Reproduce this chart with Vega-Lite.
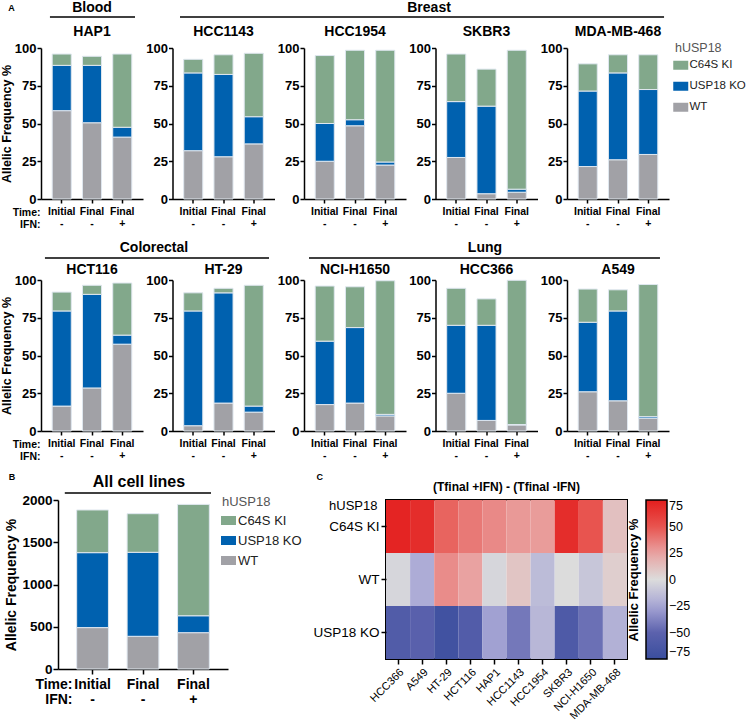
{
  "$schema": "https://vega.github.io/schema/vega-lite/v6.json",
  "padding": {"left": 0, "top": 1, "right": 0, "bottom": 0},
  "background": "white",
  "datasets": {
    "bars": [
      {"line":"HAP1","cond":"Initial|-","geno":"WT","val":58.5},
      {"line":"HAP1","cond":"Initial|-","geno":"USP18 KO","val":30},
      {"line":"HAP1","cond":"Initial|-","geno":"C64S KI","val":7.5},
      {"line":"HAP1","cond":"Final|-","geno":"WT","val":50.5},
      {"line":"HAP1","cond":"Final|-","geno":"USP18 KO","val":38},
      {"line":"HAP1","cond":"Final|-","geno":"C64S KI","val":6},
      {"line":"HAP1","cond":"Final|+","geno":"WT","val":41},
      {"line":"HAP1","cond":"Final|+","geno":"USP18 KO","val":6.5},
      {"line":"HAP1","cond":"Final|+","geno":"C64S KI","val":48.5},
      {"line":"HCC1143","cond":"Initial|-","geno":"WT","val":32},
      {"line":"HCC1143","cond":"Initial|-","geno":"USP18 KO","val":51.5},
      {"line":"HCC1143","cond":"Initial|-","geno":"C64S KI","val":9},
      {"line":"HCC1143","cond":"Final|-","geno":"WT","val":28},
      {"line":"HCC1143","cond":"Final|-","geno":"USP18 KO","val":54.5},
      {"line":"HCC1143","cond":"Final|-","geno":"C64S KI","val":13},
      {"line":"HCC1143","cond":"Final|+","geno":"WT","val":36.5},
      {"line":"HCC1143","cond":"Final|+","geno":"USP18 KO","val":18},
      {"line":"HCC1143","cond":"Final|+","geno":"C64S KI","val":42},
      {"line":"HCC1954","cond":"Initial|-","geno":"WT","val":25},
      {"line":"HCC1954","cond":"Initial|-","geno":"USP18 KO","val":25},
      {"line":"HCC1954","cond":"Initial|-","geno":"C64S KI","val":45},
      {"line":"HCC1954","cond":"Final|-","geno":"WT","val":48.5},
      {"line":"HCC1954","cond":"Final|-","geno":"USP18 KO","val":4},
      {"line":"HCC1954","cond":"Final|-","geno":"C64S KI","val":46},
      {"line":"HCC1954","cond":"Final|+","geno":"WT","val":22.5},
      {"line":"HCC1954","cond":"Final|+","geno":"USP18 KO","val":2},
      {"line":"HCC1954","cond":"Final|+","geno":"C64S KI","val":74},
      {"line":"SKBR3","cond":"Initial|-","geno":"WT","val":27.5},
      {"line":"SKBR3","cond":"Initial|-","geno":"USP18 KO","val":37},
      {"line":"SKBR3","cond":"Initial|-","geno":"C64S KI","val":31.5},
      {"line":"SKBR3","cond":"Final|-","geno":"WT","val":3.5},
      {"line":"SKBR3","cond":"Final|-","geno":"USP18 KO","val":58},
      {"line":"SKBR3","cond":"Final|-","geno":"C64S KI","val":24.5},
      {"line":"SKBR3","cond":"Final|+","geno":"WT","val":4.5},
      {"line":"SKBR3","cond":"Final|+","geno":"USP18 KO","val":2},
      {"line":"SKBR3","cond":"Final|+","geno":"C64S KI","val":92},
      {"line":"MDA-MB-468","cond":"Initial|-","geno":"WT","val":21.5},
      {"line":"MDA-MB-468","cond":"Initial|-","geno":"USP18 KO","val":50},
      {"line":"MDA-MB-468","cond":"Initial|-","geno":"C64S KI","val":18},
      {"line":"MDA-MB-468","cond":"Final|-","geno":"WT","val":26},
      {"line":"MDA-MB-468","cond":"Final|-","geno":"USP18 KO","val":57.5},
      {"line":"MDA-MB-468","cond":"Final|-","geno":"C64S KI","val":12},
      {"line":"MDA-MB-468","cond":"Final|+","geno":"WT","val":29.5},
      {"line":"MDA-MB-468","cond":"Final|+","geno":"USP18 KO","val":43},
      {"line":"MDA-MB-468","cond":"Final|+","geno":"C64S KI","val":23},
      {"line":"HCT116","cond":"Initial|-","geno":"WT","val":16.5},
      {"line":"HCT116","cond":"Initial|-","geno":"USP18 KO","val":63},
      {"line":"HCT116","cond":"Initial|-","geno":"C64S KI","val":12.5},
      {"line":"HCT116","cond":"Final|-","geno":"WT","val":28.5},
      {"line":"HCT116","cond":"Final|-","geno":"USP18 KO","val":62},
      {"line":"HCT116","cond":"Final|-","geno":"C64S KI","val":6},
      {"line":"HCT116","cond":"Final|+","geno":"WT","val":57.5},
      {"line":"HCT116","cond":"Final|+","geno":"USP18 KO","val":6},
      {"line":"HCT116","cond":"Final|+","geno":"C64S KI","val":34.5},
      {"line":"HT-29","cond":"Initial|-","geno":"WT","val":3.5},
      {"line":"HT-29","cond":"Initial|-","geno":"USP18 KO","val":76},
      {"line":"HT-29","cond":"Initial|-","geno":"C64S KI","val":12},
      {"line":"HT-29","cond":"Final|-","geno":"WT","val":18.5},
      {"line":"HT-29","cond":"Final|-","geno":"USP18 KO","val":73},
      {"line":"HT-29","cond":"Final|-","geno":"C64S KI","val":3},
      {"line":"HT-29","cond":"Final|+","geno":"WT","val":12.5},
      {"line":"HT-29","cond":"Final|+","geno":"USP18 KO","val":4},
      {"line":"HT-29","cond":"Final|+","geno":"C64S KI","val":80},
      {"line":"NCI-H1650","cond":"Initial|-","geno":"WT","val":17.5},
      {"line":"NCI-H1650","cond":"Initial|-","geno":"USP18 KO","val":42},
      {"line":"NCI-H1650","cond":"Initial|-","geno":"C64S KI","val":36.5},
      {"line":"NCI-H1650","cond":"Final|-","geno":"WT","val":18.5},
      {"line":"NCI-H1650","cond":"Final|-","geno":"USP18 KO","val":50},
      {"line":"NCI-H1650","cond":"Final|-","geno":"C64S KI","val":27},
      {"line":"NCI-H1650","cond":"Final|+","geno":"WT","val":10},
      {"line":"NCI-H1650","cond":"Final|+","geno":"USP18 KO","val":1},
      {"line":"NCI-H1650","cond":"Final|+","geno":"C64S KI","val":88.5},
      {"line":"HCC366","cond":"Initial|-","geno":"WT","val":25},
      {"line":"HCC366","cond":"Initial|-","geno":"USP18 KO","val":45},
      {"line":"HCC366","cond":"Initial|-","geno":"C64S KI","val":24.5},
      {"line":"HCC366","cond":"Final|-","geno":"WT","val":7},
      {"line":"HCC366","cond":"Final|-","geno":"USP18 KO","val":63},
      {"line":"HCC366","cond":"Final|-","geno":"C64S KI","val":17.5},
      {"line":"HCC366","cond":"Final|+","geno":"WT","val":4},
      {"line":"HCC366","cond":"Final|+","geno":"USP18 KO","val":0.3},
      {"line":"HCC366","cond":"Final|+","geno":"C64S KI","val":95.5},
      {"line":"A549","cond":"Initial|-","geno":"WT","val":26},
      {"line":"A549","cond":"Initial|-","geno":"USP18 KO","val":46},
      {"line":"A549","cond":"Initial|-","geno":"C64S KI","val":22},
      {"line":"A549","cond":"Final|-","geno":"WT","val":20},
      {"line":"A549","cond":"Final|-","geno":"USP18 KO","val":59.5},
      {"line":"A549","cond":"Final|-","geno":"C64S KI","val":14},
      {"line":"A549","cond":"Final|+","geno":"WT","val":8.5},
      {"line":"A549","cond":"Final|+","geno":"USP18 KO","val":1},
      {"line":"A549","cond":"Final|+","geno":"C64S KI","val":87.5},
      {"line":"All","cond":"Initial|-","geno":"WT","val":490},
      {"line":"All","cond":"Initial|-","geno":"USP18 KO","val":887},
      {"line":"All","cond":"Initial|-","geno":"C64S KI","val":505},
      {"line":"All","cond":"Final|-","geno":"WT","val":387},
      {"line":"All","cond":"Final|-","geno":"USP18 KO","val":994},
      {"line":"All","cond":"Final|-","geno":"C64S KI","val":457},
      {"line":"All","cond":"Final|+","geno":"WT","val":430},
      {"line":"All","cond":"Final|+","geno":"USP18 KO","val":200},
      {"line":"All","cond":"Final|+","geno":"C64S KI","val":1318}
    ],
    "heat": [
      {"line":"HCC366","allele":"C64S KI","diff":72},
      {"line":"A549","allele":"C64S KI","diff":68},
      {"line":"HT-29","allele":"C64S KI","diff":45},
      {"line":"HCT116","allele":"C64S KI","diff":38},
      {"line":"HAP1","allele":"C64S KI","diff":33},
      {"line":"HCC1143","allele":"C64S KI","diff":28},
      {"line":"HCC1954","allele":"C64S KI","diff":27},
      {"line":"SKBR3","allele":"C64S KI","diff":68},
      {"line":"NCI-H1650","allele":"C64S KI","diff":50},
      {"line":"MDA-MB-468","allele":"C64S KI","diff":12},
      {"line":"HCC366","allele":"WT","diff":-3},
      {"line":"A549","allele":"WT","diff":-22},
      {"line":"HT-29","allele":"WT","diff":32},
      {"line":"HCT116","allele":"WT","diff":25},
      {"line":"HAP1","allele":"WT","diff":-3},
      {"line":"HCC1143","allele":"WT","diff":10},
      {"line":"HCC1954","allele":"WT","diff":-15},
      {"line":"SKBR3","allele":"WT","diff":0},
      {"line":"NCI-H1650","allele":"WT","diff":-10},
      {"line":"MDA-MB-468","allele":"WT","diff":6},
      {"line":"HCC366","allele":"USP18 KO","diff":-58},
      {"line":"A549","allele":"USP18 KO","diff":-52},
      {"line":"HT-29","allele":"USP18 KO","diff":-70},
      {"line":"HCT116","allele":"USP18 KO","diff":-57},
      {"line":"HAP1","allele":"USP18 KO","diff":-27},
      {"line":"HCC1143","allele":"USP18 KO","diff":-42},
      {"line":"HCC1954","allele":"USP18 KO","diff":-17},
      {"line":"SKBR3","allele":"USP18 KO","diff":-60},
      {"line":"NCI-H1650","allele":"USP18 KO","diff":-45},
      {"line":"MDA-MB-468","allele":"USP18 KO","diff":-20}
    ]
  },
  "vconcat": [
    {
      "vconcat": [
        {
          "width": 657.5, "height": 16,
          "data": {"values": [
            {"label":"Blood","start":0.068,"end":0.715,"mid":0.388},
            {"label":"Breast","start":1.057,"end":4.738,"mid":2.951}
          ]},
          "layer": [
            {"mark": {"type":"rule","strokeWidth":1.3,"color":"#000"},
             "encoding": {"x":{"field":"start","type":"quantitative","scale":{"domain":[0,5]},"axis":null},"x2":{"field":"end"},"y":{"datum":0,"type":"quantitative","scale":{"domain":[0,16]},"axis":null}}},
            {"mark": {"type":"text","fontSize":14,"fontWeight":"bold","baseline":"middle","color":"#000"},
             "encoding": {"x":{"field":"mid","type":"quantitative"},"y":{"datum":9,"type":"quantitative"},"text":{"field":"label"}}},
            {"data": {"values":[{"label":"A","pos":-0.225}]},
             "mark": {"type":"text","fontSize":9,"fontWeight":"bold","baseline":"middle","color":"#000"},
             "encoding": {"x":{"field":"pos","type":"quantitative"},"y":{"datum":9,"type":"quantitative"},"text":{"field":"label"}}}
          ]
        },
        {
          "hconcat": [
            {
              "width": 102, "height": 151,
              "title": {"text":"HAP1","offset":3},
              "data": {"name":"bars"},
              "transform": [{"filter":"datum.line === 'HAP1'"}],
              "mark": {"type":"bar","stroke":"#dfe7ef","strokeWidth":1},
              "encoding": {
                "x": {"field":"cond","type":"nominal","sort":["Initial|-","Final|-","Final|+"],"scale":{"paddingInner":0.37,"paddingOuter":0.37},
                      "axis":{"title":["Time:","IFN:"],"titleFontSize":10.5,"titleLineHeight":12,"titleAngle":0,"titleAlign":"right","titleBaseline":"top","titleX":-1,"titleY":8,"labelExpr":"split(datum.label,'|')","labelAngle":0,"labelFontSize":10.5,"labelLineHeight":12,"tickSize":4,"labelPadding":3}},
                "y": {"field":"val","type":"quantitative","stack":"zero","scale":{"domain":[0,100]},
                      "axis":{"title":"Allelic Frequency %","titleFontSize":12.5,"titlePadding":1,"values":[0,25,50,75,100],"labelFontSize":13,"tickSize":4,"labelPadding":1}},
                "color": {"field":"geno","type":"nominal","scale":{"domain":["C64S KI","USP18 KO","WT"],"range":["#82A88B","#0061AF","#A1A1A6"]},"legend":null},
                "order": {"field":"geno","type":"ordinal","sort":"descending"}
              }
            },
            {
              "width": 102, "height": 151,
              "title": {"text":"HCC1143","offset":3},
              "data": {"name":"bars"},
              "transform": [{"filter":"datum.line === 'HCC1143'"}],
              "mark": {"type":"bar","stroke":"#dfe7ef","strokeWidth":1},
              "encoding": {
                "x": {"field":"cond","type":"nominal","sort":["Initial|-","Final|-","Final|+"],"scale":{"paddingInner":0.37,"paddingOuter":0.37},
                      "axis":{"title":null,"labelExpr":"split(datum.label,'|')","labelAngle":0,"labelFontSize":10.5,"labelLineHeight":12,"tickSize":4,"labelPadding":3}},
                "y": {"field":"val","type":"quantitative","stack":"zero","scale":{"domain":[0,100]},
                      "axis":{"title":null,"values":[0,25,50,75,100],"labelFontSize":13,"tickSize":4,"labelPadding":1}},
                "color": {"field":"geno","type":"nominal","scale":{"domain":["C64S KI","USP18 KO","WT"],"range":["#82A88B","#0061AF","#A1A1A6"]},"legend":null},
                "order": {"field":"geno","type":"ordinal","sort":"descending"}
              }
            },
            {
              "width": 102, "height": 151,
              "title": {"text":"HCC1954","offset":3},
              "data": {"name":"bars"},
              "transform": [{"filter":"datum.line === 'HCC1954'"}],
              "mark": {"type":"bar","stroke":"#dfe7ef","strokeWidth":1},
              "encoding": {
                "x": {"field":"cond","type":"nominal","sort":["Initial|-","Final|-","Final|+"],"scale":{"paddingInner":0.37,"paddingOuter":0.37},
                      "axis":{"title":null,"labelExpr":"split(datum.label,'|')","labelAngle":0,"labelFontSize":10.5,"labelLineHeight":12,"tickSize":4,"labelPadding":3}},
                "y": {"field":"val","type":"quantitative","stack":"zero","scale":{"domain":[0,100]},
                      "axis":{"title":null,"values":[0,25,50,75,100],"labelFontSize":13,"tickSize":4,"labelPadding":1}},
                "color": {"field":"geno","type":"nominal","scale":{"domain":["C64S KI","USP18 KO","WT"],"range":["#82A88B","#0061AF","#A1A1A6"]},"legend":null},
                "order": {"field":"geno","type":"ordinal","sort":"descending"}
              }
            },
            {
              "width": 102, "height": 151,
              "title": {"text":"SKBR3","offset":3},
              "data": {"name":"bars"},
              "transform": [{"filter":"datum.line === 'SKBR3'"}],
              "mark": {"type":"bar","stroke":"#dfe7ef","strokeWidth":1},
              "encoding": {
                "x": {"field":"cond","type":"nominal","sort":["Initial|-","Final|-","Final|+"],"scale":{"paddingInner":0.37,"paddingOuter":0.37},
                      "axis":{"title":null,"labelExpr":"split(datum.label,'|')","labelAngle":0,"labelFontSize":10.5,"labelLineHeight":12,"tickSize":4,"labelPadding":3}},
                "y": {"field":"val","type":"quantitative","stack":"zero","scale":{"domain":[0,100]},
                      "axis":{"title":null,"values":[0,25,50,75,100],"labelFontSize":13,"tickSize":4,"labelPadding":1}},
                "color": {"field":"geno","type":"nominal","scale":{"domain":["C64S KI","USP18 KO","WT"],"range":["#82A88B","#0061AF","#A1A1A6"]},"legend":null},
                "order": {"field":"geno","type":"ordinal","sort":"descending"}
              }
            },
            {
              "width": 102, "height": 151,
              "title": {"text":"MDA-MB-468","offset":3},
              "data": {"name":"bars"},
              "transform": [{"filter":"datum.line === 'MDA-MB-468'"}],
              "mark": {"type":"bar","stroke":"#dfe7ef","strokeWidth":1},
              "encoding": {
                "x": {"field":"cond","type":"nominal","sort":["Initial|-","Final|-","Final|+"],"scale":{"paddingInner":0.37,"paddingOuter":0.37},
                      "axis":{"title":null,"labelExpr":"split(datum.label,'|')","labelAngle":0,"labelFontSize":10.5,"labelLineHeight":12,"tickSize":4,"labelPadding":3}},
                "y": {"field":"val","type":"quantitative","stack":"zero","scale":{"domain":[0,100]},
                      "axis":{"title":null,"values":[0,25,50,75,100],"labelFontSize":13,"tickSize":4,"labelPadding":1}},
                "color": {"field":"geno","type":"nominal","scale":{"domain":["C64S KI","USP18 KO","WT"],"range":["#82A88B","#0061AF","#A1A1A6"]},
                          "legend":{"title":"hUSP18","orient":"none","legendX":108,"legendY":-6,"symbolType":"M-1.5,-0.9H1.5V0.9H-1.5Z","symbolSize":100,"symbolStrokeWidth":0,"labelFontSize":11.5,"titleFontSize":12.5,"titleFontWeight":"normal","titleColor":"#555","labelColor":"#222","rowPadding":8,"titlePadding":5,"labelOffset":3}},
                "order": {"field":"geno","type":"ordinal","sort":"descending"}
              }
            }
          ],
          "spacing": 29.5,
          "bounds": "flush",
          "resolve": {"scale":{"x":"independent","y":"independent","color":"independent"},"legend":{"color":"independent"}}
        }
      ],
      "spacing": 31,
      "bounds": "flush",
      "resolve": {"scale":{"x":"independent","y":"independent","color":"independent"},"legend":{"color":"independent"}}
    },
    {
      "vconcat": [
        {
          "width": 657.5, "height": 16,
          "data": {"values": [
            {"label":"Colorectal","start":0.030,"end":1.734,"mid":0.859},
            {"label":"Lung","start":2.038,"end":4.707,"mid":3.376}
          ]},
          "layer": [
            {"mark": {"type":"rule","strokeWidth":1.3,"color":"#000"},
             "encoding": {"x":{"field":"start","type":"quantitative","scale":{"domain":[0,5]},"axis":null},"x2":{"field":"end"},"y":{"datum":0,"type":"quantitative","scale":{"domain":[0,16]},"axis":null}}},
            {"mark": {"type":"text","fontSize":14,"fontWeight":"bold","baseline":"middle","color":"#000"},
             "encoding": {"x":{"field":"mid","type":"quantitative"},"y":{"datum":10,"type":"quantitative"},"text":{"field":"label"}}}
          ]
        },
        {
          "hconcat": [
            {
              "width": 102, "height": 151,
              "title": {"text":"HCT116","offset":-3},
              "data": {"name":"bars"},
              "transform": [{"filter":"datum.line === 'HCT116'"}],
              "mark": {"type":"bar","stroke":"#dfe7ef","strokeWidth":1},
              "encoding": {
                "x": {"field":"cond","type":"nominal","sort":["Initial|-","Final|-","Final|+"],"scale":{"paddingInner":0.37,"paddingOuter":0.37},
                      "axis":{"title":["Time:","IFN:"],"titleFontSize":10.5,"titleLineHeight":12,"titleAngle":0,"titleAlign":"right","titleBaseline":"top","titleX":-1,"titleY":8,"labelExpr":"split(datum.label,'|')","labelAngle":0,"labelFontSize":10.5,"labelLineHeight":12,"tickSize":4,"labelPadding":3}},
                "y": {"field":"val","type":"quantitative","stack":"zero","scale":{"domain":[0,100]},
                      "axis":{"title":"Allelic Frequency %","titleFontSize":12.5,"titlePadding":1,"values":[0,25,50,75,100],"labelFontSize":13,"tickSize":4,"labelPadding":1}},
                "color": {"field":"geno","type":"nominal","scale":{"domain":["C64S KI","USP18 KO","WT"],"range":["#82A88B","#0061AF","#A1A1A6"]},"legend":null},
                "order": {"field":"geno","type":"ordinal","sort":"descending"}
              }
            },
            {
              "width": 102, "height": 151,
              "title": {"text":"HT-29","offset":-3},
              "data": {"name":"bars"},
              "transform": [{"filter":"datum.line === 'HT-29'"}],
              "mark": {"type":"bar","stroke":"#dfe7ef","strokeWidth":1},
              "encoding": {
                "x": {"field":"cond","type":"nominal","sort":["Initial|-","Final|-","Final|+"],"scale":{"paddingInner":0.37,"paddingOuter":0.37},
                      "axis":{"title":null,"labelExpr":"split(datum.label,'|')","labelAngle":0,"labelFontSize":10.5,"labelLineHeight":12,"tickSize":4,"labelPadding":3}},
                "y": {"field":"val","type":"quantitative","stack":"zero","scale":{"domain":[0,100]},
                      "axis":{"title":null,"values":[0,25,50,75,100],"labelFontSize":13,"tickSize":4,"labelPadding":1}},
                "color": {"field":"geno","type":"nominal","scale":{"domain":["C64S KI","USP18 KO","WT"],"range":["#82A88B","#0061AF","#A1A1A6"]},"legend":null},
                "order": {"field":"geno","type":"ordinal","sort":"descending"}
              }
            },
            {
              "width": 102, "height": 151,
              "title": {"text":"NCI-H1650","offset":-3},
              "data": {"name":"bars"},
              "transform": [{"filter":"datum.line === 'NCI-H1650'"}],
              "mark": {"type":"bar","stroke":"#dfe7ef","strokeWidth":1},
              "encoding": {
                "x": {"field":"cond","type":"nominal","sort":["Initial|-","Final|-","Final|+"],"scale":{"paddingInner":0.37,"paddingOuter":0.37},
                      "axis":{"title":null,"labelExpr":"split(datum.label,'|')","labelAngle":0,"labelFontSize":10.5,"labelLineHeight":12,"tickSize":4,"labelPadding":3}},
                "y": {"field":"val","type":"quantitative","stack":"zero","scale":{"domain":[0,100]},
                      "axis":{"title":null,"values":[0,25,50,75,100],"labelFontSize":13,"tickSize":4,"labelPadding":1}},
                "color": {"field":"geno","type":"nominal","scale":{"domain":["C64S KI","USP18 KO","WT"],"range":["#82A88B","#0061AF","#A1A1A6"]},"legend":null},
                "order": {"field":"geno","type":"ordinal","sort":"descending"}
              }
            },
            {
              "width": 102, "height": 151,
              "title": {"text":"HCC366","offset":-3},
              "data": {"name":"bars"},
              "transform": [{"filter":"datum.line === 'HCC366'"}],
              "mark": {"type":"bar","stroke":"#dfe7ef","strokeWidth":1},
              "encoding": {
                "x": {"field":"cond","type":"nominal","sort":["Initial|-","Final|-","Final|+"],"scale":{"paddingInner":0.37,"paddingOuter":0.37},
                      "axis":{"title":null,"labelExpr":"split(datum.label,'|')","labelAngle":0,"labelFontSize":10.5,"labelLineHeight":12,"tickSize":4,"labelPadding":3}},
                "y": {"field":"val","type":"quantitative","stack":"zero","scale":{"domain":[0,100]},
                      "axis":{"title":null,"values":[0,25,50,75,100],"labelFontSize":13,"tickSize":4,"labelPadding":1}},
                "color": {"field":"geno","type":"nominal","scale":{"domain":["C64S KI","USP18 KO","WT"],"range":["#82A88B","#0061AF","#A1A1A6"]},"legend":null},
                "order": {"field":"geno","type":"ordinal","sort":"descending"}
              }
            },
            {
              "width": 102, "height": 151,
              "title": {"text":"A549","offset":-3},
              "data": {"name":"bars"},
              "transform": [{"filter":"datum.line === 'A549'"}],
              "mark": {"type":"bar","stroke":"#dfe7ef","strokeWidth":1},
              "encoding": {
                "x": {"field":"cond","type":"nominal","sort":["Initial|-","Final|-","Final|+"],"scale":{"paddingInner":0.37,"paddingOuter":0.37},
                      "axis":{"title":null,"labelExpr":"split(datum.label,'|')","labelAngle":0,"labelFontSize":10.5,"labelLineHeight":12,"tickSize":4,"labelPadding":3}},
                "y": {"field":"val","type":"quantitative","stack":"zero","scale":{"domain":[0,100]},
                      "axis":{"title":null,"values":[0,25,50,75,100],"labelFontSize":13,"tickSize":4,"labelPadding":1}},
                "color": {"field":"geno","type":"nominal","scale":{"domain":["C64S KI","USP18 KO","WT"],"range":["#82A88B","#0061AF","#A1A1A6"]},"legend":null},
                "order": {"field":"geno","type":"ordinal","sort":"descending"}
              }
            }
          ],
          "spacing": 29.5,
          "bounds": "flush",
          "resolve": {"scale":{"x":"independent","y":"independent","color":"independent"},"legend":{"color":"independent"}}
        }
      ],
      "spacing": 22,
      "bounds": "flush",
      "resolve": {"scale":{"x":"independent","y":"independent","color":"independent"},"legend":{"color":"independent"}}
    },
    {
      "hconcat": [
        {
          "width": 17, "height": 5,
          "data": {"values": [{}]},
          "mark": {"type":"point","opacity":0},
          "encoding": {}
        },
        {
          "vconcat": [
            {
              "width": 170, "height": 16,
              "data": {"values": [
                {"label":"All cell lines","start":0.04,"end":0.90,"mid":0.476}
              ]},
              "layer": [
                {"mark": {"type":"rule","strokeWidth":1.3,"color":"#000"},
                 "encoding": {"x":{"field":"start","type":"quantitative","scale":{"domain":[0,1]},"axis":null},"x2":{"field":"end"},"y":{"datum":0,"type":"quantitative","scale":{"domain":[0,16]},"axis":null}}},
                {"mark": {"type":"text","fontSize":16,"fontWeight":"bold","baseline":"middle","color":"#000"},
                 "encoding": {"x":{"field":"mid","type":"quantitative"},"y":{"datum":11,"type":"quantitative"},"text":{"field":"label"}}},
                {"data": {"values":[{"label":"B","pos":-0.27},{"label":"C","pos":1.54}]},
                 "mark": {"type":"text","fontSize":9,"fontWeight":"bold","baseline":"middle","color":"#000"},
                 "encoding": {"x":{"field":"pos","type":"quantitative"},"y":{"datum":16,"type":"quantitative"},"text":{"field":"label"}}}
              ]
            },
            {
              "hconcat": [
                {
                  "width": 170, "height": 169,
                  "data": {"name":"bars"},
                  "transform": [{"filter":"datum.line === 'All'"}],
                  "mark": {"type":"bar","stroke":"#dfe7ef","strokeWidth":1},
                  "encoding": {
                    "x": {"field":"cond","type":"nominal","sort":["Initial|-","Final|-","Final|+"],"scale":{"paddingInner":0.37,"paddingOuter":0.37},
                          "axis":{"title":["Time:","IFN:"],"titleFontSize":14,"titleLineHeight":15,"titleAngle":0,"titleAlign":"right","titleBaseline":"top","titleX":14,"titleY":8,"labelExpr":"split(datum.label,'|')","labelAngle":0,"labelFontSize":14,"labelLineHeight":15,"tickSize":5,"labelPadding":3}},
                    "y": {"field":"val","type":"quantitative","stack":"zero","scale":{"domain":[0,2000]},
                          "axis":{"title":"Allelic Frequency %","titleFontSize":14,"titlePadding":3,"values":[0,500,1000,1500,2000],"format":"d","labelFontSize":13.5,"tickSize":5,"labelPadding":1}},
                    "color": {"field":"geno","type":"nominal","scale":{"domain":["C64S KI","USP18 KO","WT"],"range":["#82A88B","#0061AF","#A1A1A6"]},
                              "legend":{"title":"hUSP18","orient":"none","legendX":164,"legendY":-4,"symbolType":"M-1.5,-0.9H1.5V0.9H-1.5Z","symbolSize":100,"symbolStrokeWidth":0,"labelFontSize":13,"titleFontSize":13,"titleFontWeight":"normal","titleColor":"#555","labelColor":"#222","rowPadding":6,"titlePadding":5,"labelOffset":3}},
                    "order": {"field":"geno","type":"ordinal","sort":"descending"}
                  }
                },
                {
                  "width": 241, "height": 159,
                  "view": {"stroke":"#000","strokeWidth":2},
                  "title": {"text":"(Tfinal +IFN) - (Tfinal -IFN)","fontSize":12,"offset":5},
                  "data": {"name":"heat"},
                  "mark": {"type":"rect"},
                  "encoding": {
                    "x": {"field":"line","type":"nominal","sort":["HCC366","A549","HT-29","HCT116","HAP1","HCC1143","HCC1954","SKBR3","NCI-H1650","MDA-MB-468"],"scale":{"paddingInner":0,"paddingOuter":0},
                          "axis":{"title":null,"labelAngle":-45,"labelFontWeight":"normal","labelFontSize":11,"tickSize":5,"domain":false}},
                    "y": {"field":"allele","type":"nominal","sort":["C64S KI","WT","USP18 KO"],"scale":{"paddingInner":0,"paddingOuter":0},
                          "axis":{"title":"hUSP18","titleAngle":0,"titleFontWeight":"normal","titleFontSize":13,"titleX":-9,"titleY":5,"titleAlign":"right","titleBaseline":"middle","labelFontWeight":"normal","labelFontSize":13.5,"tickSize":5,"domain":false}},
                    "color": {"field":"diff","type":"quantitative",
                              "scale":{"domain":[-75,-50,-25,0,25,50,75],"range":["#3A4E9E","#5C62AD","#A7A6D5","#DCDCDC","#E9A2A1","#E8544F","#E31E1D"],"interpolate":"rgb"},
                              "legend":{"title":"Allelic Frequency %","titleOrient":"left","titleFontSize":13,"titleFontWeight":"bold","titlePadding":4,"gradientLength":159,"gradientThickness":21,"values":[-75,-50,-25,0,25,50,75],"labelFontSize":12.5,"labelOverlap":false,"gradientStrokeColor":"#000","gradientStrokeWidth":1.5,"offset":1,"direction":"vertical"}}
                  }
                }
              ],
              "spacing": 158,
              "bounds": "flush",
              "resolve": {"scale":{"x":"independent","y":"independent","color":"independent"},"legend":{"color":"independent"}}
            }
          ],
          "spacing": 7,
          "bounds": "flush",
          "resolve": {"scale":{"x":"independent","y":"independent","color":"independent"},"legend":{"color":"independent"}}
        }
      ],
      "spacing": 0,
      "bounds": "flush",
      "resolve": {"scale":{"x":"independent","y":"independent","color":"independent"},"legend":{"color":"independent"}}
    }
  ],
  "spacing": 11,
  "bounds": "full",
  "resolve": {"scale":{"x":"independent","y":"independent","color":"independent"},"legend":{"color":"independent"}},
  "config": {
    "font": "Liberation Sans",
    "view": {"stroke": null},
    "axis": {"domainColor":"#000","domainWidth":1.5,"tickColor":"#000","tickWidth":1.5,"labelColor":"#000","titleColor":"#000","grid":false,"labelFontWeight":"bold","titleFontWeight":"bold","labelFont":"Liberation Sans","titleFont":"Liberation Sans"},
    "title": {"fontWeight":"bold","color":"#000","fontSize":14,"font":"Liberation Sans"},
    "legend": {"labelFont":"Liberation Sans","titleFont":"Liberation Sans"}
  }
}
